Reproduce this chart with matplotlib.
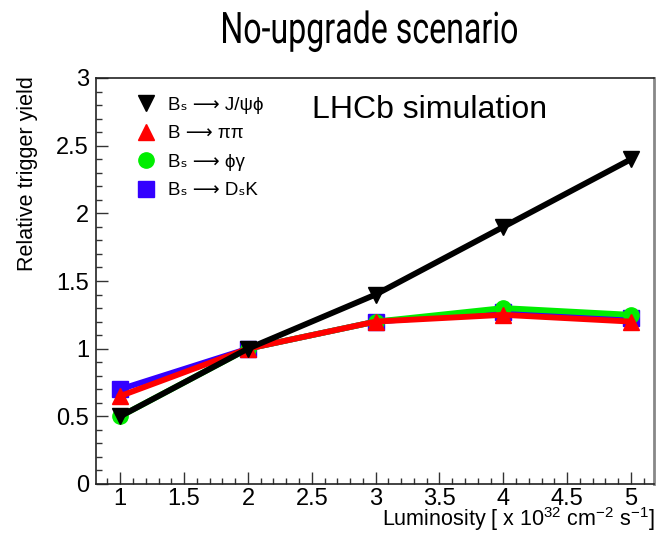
import matplotlib
matplotlib.use("Agg")
import matplotlib.pyplot as plt
from matplotlib.ticker import MultipleLocator, FuncFormatter
from matplotlib.textpath import TextPath
from matplotlib.patches import PathPatch
from matplotlib.font_manager import FontProperties
from matplotlib.transforms import Affine2D, IdentityTransform

plt.rcParams['font.family'] = ['Liberation Sans', 'DejaVu Sans']
plt.rcParams['mathtext.fontset'] = 'custom'
plt.rcParams['mathtext.rm'] = 'Liberation Sans'

lumi = [1, 2, 3, 4, 5]

# relative trigger yield per channel, normalised at L = 2
yield_jpsiphi = [0.5, 1.0, 1.4, 1.9, 2.4]
yield_pipi = [0.65, 1.0, 1.2, 1.25, 1.2]
yield_phigamma = [0.5, 1.0, 1.2, 1.3, 1.25]
yield_dsk = [0.7, 1.0, 1.2, 1.27, 1.23]

labels = ["Bₛ ⟶ J/ψϕ", "B ⟶ ππ", "Bₛ ⟶ ϕγ", "Bₛ ⟶ DₛK"]

W, H = 658, 536
fig = plt.figure(figsize=(W / 100, H / 100), dpi=100)
ax = fig.add_axes([96 / W, 52 / H, 558 / W, 406 / H])

lw = 4.2
ms = 11
ax.plot(lumi, yield_dsk, color='#3300ff', lw=lw, marker='s', ms=ms, zorder=2)
ax.plot(lumi, yield_phigamma, color='#00ee00', lw=lw, marker='o', ms=ms, zorder=3)
ax.plot(lumi, yield_pipi, color='#ff0000', lw=lw, marker='^', ms=ms, zorder=4)
ax.plot(lumi, yield_jpsiphi, color='black', lw=lw, marker='v', ms=ms, zorder=5)

ax.set_xlim(0.81, 5.18)
ax.set_ylim(0, 3)
ax.xaxis.set_major_locator(MultipleLocator(0.5))
ax.xaxis.set_minor_locator(MultipleLocator(0.1))
ax.yaxis.set_major_locator(MultipleLocator(0.5))
ax.yaxis.set_minor_locator(MultipleLocator(0.1))
ax.xaxis.set_major_formatter(FuncFormatter(lambda v, p: f"{v:g}"))
ax.yaxis.set_major_formatter(FuncFormatter(lambda v, p: f"{v:g}"))
ax.tick_params(which='both', direction='in', top=False, right=False,
               labelsize=17, width=1.0, color='#333333')
ax.tick_params(which='major', length=8.5)
ax.tick_params(which='minor', length=4.5)
ax.tick_params(axis='x', pad=3)
ax.tick_params(axis='y', pad=5)

for side in ['left', 'bottom', 'top']:
    ax.spines[side].set_color('#222222')
    ax.spines[side].set_linewidth(1.2)
ax.spines['right'].set_color('#888888')
ax.spines['right'].set_linewidth(2.0)

fig.text(28 / W, 1 - 76 / H, "Relative trigger yield", fontsize=15.5,
         rotation=90, ha='center', va='top')
fig.text(655 / W, 3 / H,
         r"Luminosity [ x 10$^\mathregular{32}$ cm$^\mathregular{-2}$ s$^\mathregular{-1}$]",
         fontsize=15.5, ha='right', va='bottom')

# legend entries, ROOT style (no frame)
handles = []
for line in [ax.lines[3], ax.lines[2], ax.lines[1], ax.lines[0]]:
    handles.append(plt.Line2D([], [], color=line.get_color(), marker=line.get_marker(),
                              ms=ms, lw=0))
ax.legend(handles, labels, loc='upper left', bbox_to_anchor=(0.04, 0.995),
          frameon=False, fontsize=13.5, handletextpad=0.55, labelspacing=0.6,
          handlelength=1.2)

ax.text(0.387, 0.92, "LHCb simulation", transform=ax.transAxes, fontsize=23,
        ha='left', va='center')

# condensed title: glyph outlines squeezed horizontally
title = "No-upgrade scenario"
tp = TextPath((0, 0), title, size=43.5, prop=FontProperties(family='Roboto', weight='normal'))
ext = tp.get_extents()
sx = 294 / ext.width
x0, baseline = 223, H - 43
tf = Affine2D().translate(-ext.x0, 0).scale(sx, 1).translate(x0, baseline)
fig.patches.append(PathPatch(tp, transform=tf + IdentityTransform(), color='black',
                             lw=0, figure=fig))

fig.savefig("out.png", dpi=100)
